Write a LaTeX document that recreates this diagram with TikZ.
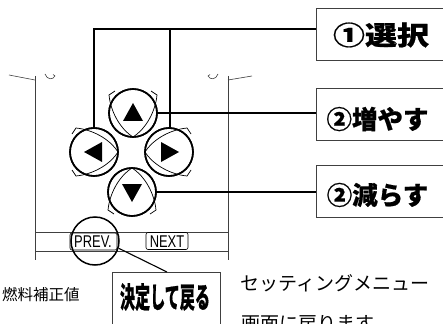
\documentclass[tikz,border=0pt]{standalone}
\usepackage{fontspec}
\setmainfont{Liberation Sans}
\newfontfamily\cjk{Noto Sans CJK JP}[BoldFeatures={FakeBold=0.6}]
\begin{document}
\begin{tikzpicture}[x=1pt,y=-1pt,
  panel/.style={line width=0.6pt, draw=black!75},
  conn/.style={line width=1.6pt},
  btn/.style={circle, draw, fill=white, line width=1.6pt, minimum size=48pt, inner sep=0pt},
  lblbox/.style={draw=black!75, line width=0.8pt, minimum width=129pt, minimum height=52pt, inner sep=0pt},
  lbltext/.style={font=\cjk\bfseries\fontsize{25.5}{25.5}\selectfont, inner sep=0pt},
  keybox/.style={draw, line width=0.6pt, rounded corners=2pt, minimum width=#1, minimum height=17pt, inner sep=0pt},
  keytext/.style={font=\fontsize{17}{17}\selectfont, xscale=0.76, inner sep=0pt},
  shield/.pic={
    \draw[line width=0.7pt] (-18,-22) -- (-24,-18) .. controls (-22,2) and (-10,18) .. (0,24)
      .. controls (10,18) and (22,2) .. (24,-18) -- (18,-22);
  },
  arrowtri/.pic={\fill (0,-10) -- (10,8) -- (-10,8) -- cycle;}
]
\useasboundingbox (0,0) rectangle (443,323);
\clip (0,0) rectangle (443,323);

% panel outline
\draw[panel] (35,76) -- (35,260);
\draw[panel] (228,76) -- (228,260);
\draw[panel] (9,75) -- (35,80);
\draw[panel] (228,80) -- (252,76);
\draw[panel] (45,74) .. controls (47,80) and (53,80) .. (55,76) -- (53,74.5);
\draw[panel] (218,74) .. controls (216,80) and (210,80) .. (208,76) -- (210,74.5);
\draw[panel] (35,232) -- (228,232);
\draw[panel] (35,251) -- (228,251);

% buttons
\node[btn] (up) at (133,113) {};
\node[btn] (left) at (94,152) {};
\node[btn] (right) at (169,152) {};
\node[btn] (down) at (132,192) {};
\pic at (up) {shield};
\pic[rotate=90] at (left) {shield};
\pic[rotate=-90] at (right) {shield};
\pic[rotate=180] at (down) {shield};
\draw[line width=1.6pt] (up) circle[radius=24];
\draw[line width=1.6pt] (left) circle[radius=24];
\draw[line width=1.6pt] (right) circle[radius=24];
\draw[line width=1.6pt] (down) circle[radius=24];
\pic at (up) {arrowtri};
\pic[rotate=90] at (left) {arrowtri};
\pic[rotate=-90] at (right) {arrowtri};
\pic[rotate=180] at (down) {arrowtri};

% label boxes
\node[lblbox] (box1) at (380.5,34) {};
\node[lblbox] (box2) at (380.5,114) {};
\node[lblbox] (box3) at (380.5,191) {};
\node[lbltext, font=\cjk\bfseries\fontsize{32}{32}\selectfont, yscale=0.82] (t1) at (381,35) {①選択};
\node[lbltext] (t2) at (377.5,119) {②増やす};
\node[lbltext] (t3) at (377.5,195) {②減らす};

% connectors
\coordinate (j1) at (316,29);
\draw[conn] (left.north) -- (left.north |- j1) -- (j1);
\draw[conn] (170,128) -- (170,29);
\draw[conn] (up.east) -- (up.east -| box2.west);
\draw[conn] (down.east) -- (down.east -| box3.west);

% PREV / NEXT keys
\node[keybox=47pt] (prevbox) at (93.5,241.5) {};
\node[keytext] (prevt) at (93,242) {PREV.};
\node[keybox=42pt] (nextbox) at (167,241) {};
\node[keytext] (nextt) at (167,242) {NEXT};
\node[circle, draw, line width=1.5pt, minimum size=48pt, inner sep=0pt] (prevc) at (95,241) {};

% kettei box
\node[draw=black!75, line width=0.8pt, minimum width=108pt, minimum height=62pt, anchor=north west, inner sep=0pt] (kbox) at (112,272) {};
\coordinate (ktop) at (167,272);
\draw[line width=1.1pt] (prevc.-17) -- (ktop);
\node[font=\cjk\bfseries\fontsize{29}{29}\selectfont, xscale=0.52, inner sep=0pt] (kt) at (165,297) {決定して戻る};

% texts
\node[font=\cjk\fontsize{15.5}{15.5}\selectfont, anchor=west, inner sep=0pt] (nenryo) at (2,295) {燃料補正値};
\node[font=\cjk\fontsize{19}{19}\selectfont, anchor=west, inner sep=0pt] (msg1) at (240,283) {セッティングメニュー};
\node[font=\cjk\fontsize{19}{19}\selectfont, anchor=west, inner sep=0pt] (msg2) at (241,324) {画面に戻ります。};
\end{tikzpicture}
\end{document}
